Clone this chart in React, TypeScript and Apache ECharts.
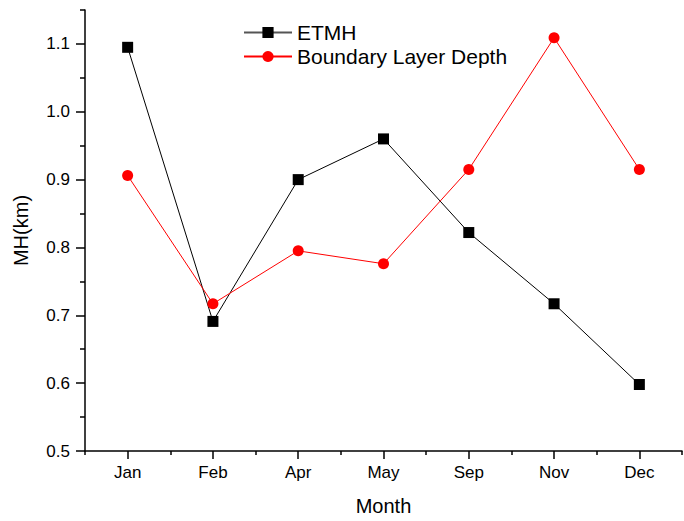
import React, { useEffect, useRef } from "react";
import * as echarts from "echarts";

const months = ["Jan", "Feb", "Apr", "May", "Sep", "Nov", "Dec"];
const etmh = [1.095, 0.691, 0.9, 0.96, 0.822, 0.717, 0.598];
const bld = [0.906, 0.717, 0.795, 0.776, 0.915, 1.109, 0.915];
const majorY = [0.5, 0.6, 0.7, 0.8, 0.9, 1.0, 1.1];
const minorY = [0.55, 0.65, 0.75, 0.85, 0.95, 1.05, 1.15];

export default function App() {
  const ref = useRef<HTMLDivElement>(null);
  useEffect(() => {
    const chart = echarts.init(ref.current!, null, { renderer: "svg" });
    const font = "Liberation Sans, Arial, sans-serif";
    chart.setOption({
      animation: false,
      textStyle: { fontFamily: font },
      grid: { left: 85, top: 10, right: 2, bottom: 70, containLabel: false, outerBoundsMode: "none" },
      legend: {
        orient: "vertical",
        left: 238,
        top: 17,
        itemWidth: 48,
        itemHeight: 14,
        itemGap: 3,
        textStyle: { fontSize: 21, color: "#000", fontFamily: font },
        data: [
          { name: "ETMH", itemStyle: { color: "#000" }, lineStyle: { color: "#555" } },
          { name: "Boundary Layer Depth" },
        ],
      },
      xAxis: [
        {
          type: "category",
          gridIndex: 0,
          data: months,
          boundaryGap: true,
          name: "Month",
          nameLocation: "middle",
          nameGap: 45,
          nameTextStyle: { fontSize: 20, color: "#000", fontFamily: font },
          axisLine: { show: true, onZero: false, lineStyle: { color: "#000", width: 1.5 } },
          axisTick: { show: true, alignWithLabel: true, length: 8, lineStyle: { color: "#000", width: 1.5 } },
          axisLabel: { show: true, fontSize: 17, color: "#000", margin: 13, fontFamily: font },
          splitLine: { show: false },
        },
        {
          type: "category",
          gridIndex: 0,
          data: months,
          boundaryGap: true,
          position: "bottom",
          offset: 0,
          axisLine: { show: false, onZero: false },
          axisTick: { show: true, length: 4, lineStyle: { color: "#000", width: 1.5 } },
          axisLabel: { show: false },
          splitLine: { show: false },
        },
      ],
      yAxis: [
        {
          type: "value",
          gridIndex: 0,
          min: 0.5,
          max: 1.15,
          name: "MH(km)",
          nameLocation: "middle",
          nameGap: 54,
          nameTextStyle: { fontSize: 20, color: "#000", fontFamily: font },
          axisLine: { show: true, onZero: false, lineStyle: { color: "#000", width: 1.5 } },
          axisTick: { show: true, length: 9, customValues: majorY, lineStyle: { color: "#000", width: 1.5 } },
          axisLabel: {
            show: true,
            fontSize: 17,
            color: "#000",
            margin: 15,
            fontFamily: font,
            customValues: majorY,
            formatter: (v: number) => v.toFixed(1),
          },
          splitLine: { show: false },
        },
        {
          type: "value",
          gridIndex: 0,
          min: 0.5,
          max: 1.15,
          position: "left",
          offset: 0,
          axisLine: { show: false, onZero: false },
          axisTick: { show: true, length: 5, customValues: minorY, lineStyle: { color: "#000", width: 1.5 } },
          axisLabel: { show: false },
          splitLine: { show: false },
        },
      ],
      series: [
        {
          name: "ETMH",
          type: "line",
          data: etmh,
          symbol: "rect",
          symbolSize: 11,
          itemStyle: { color: "#000" },
          lineStyle: { color: "#000", width: 1 },
        },
        {
          name: "Boundary Layer Depth",
          type: "line",
          data: bld,
          symbol: "circle",
          symbolSize: 11,
          itemStyle: { color: "#ff0000" },
          lineStyle: { color: "#ff0000", width: 1 },
        },
      ],
    });
    return () => chart.dispose();
  }, []);
  return <div ref={ref} style={{ width: 684, height: 521, position: "absolute", left: 0, top: 0 }} />;
}
